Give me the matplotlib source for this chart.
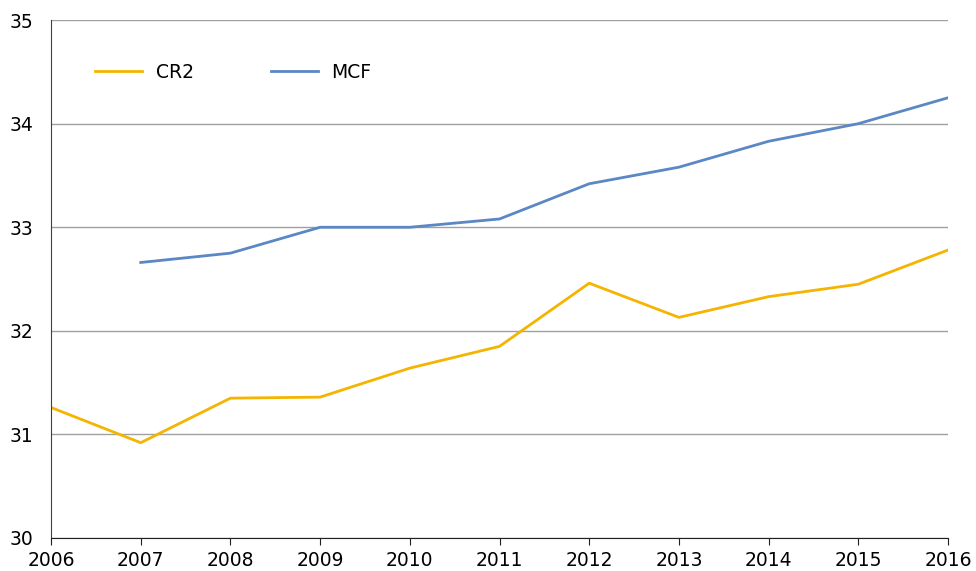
import matplotlib
matplotlib.use("Agg")
import matplotlib.pyplot as plt

years = [2006, 2007, 2008, 2009, 2010, 2011, 2012, 2013, 2014, 2015, 2016]
cr2 = [31.26, 30.92, 31.35, 31.36, 31.64, 31.85, 32.46, 32.13, 32.33, 32.45, 32.78]
mcf_years = years[1:]
mcf = [32.66, 32.75, 33.0, 33.0, 33.08, 33.42, 33.58, 33.83, 34.0, 34.25]

plt.rcParams["font.family"] = ["DejaVu Sans"]

fig = plt.figure(figsize=(9.76, 5.71), dpi=100)
ax = fig.add_axes([0.0523, 0.0578, 0.919, 0.907])

ax.plot(years, cr2, color="#f5b400", lw=2, label="CR2")
ax.plot(mcf_years, mcf, color="#5b87c5", lw=2, label="MCF")

ax.set_xlim(2006, 2016)
ax.set_ylim(30, 35)
ax.set_xticks(years)
ax.set_yticks([30, 31, 32, 33, 34, 35])
ax.yaxis.grid(True, color="#a0a0a0", lw=1)
ax.set_axisbelow(True)
for s in ["top", "right"]:
    ax.spines[s].set_visible(False)
ax.spines["left"].set_color("#404040")
ax.spines["bottom"].set_color("#202020")
ax.tick_params(axis="y", length=0, pad=13, labelsize=13.5)
ax.tick_params(axis="x", length=5, color="#202020", labelsize=13.5, pad=4.5)

ax.legend(loc="upper left", bbox_to_anchor=(0.03, 0.95), ncol=2, frameon=False,
          fontsize=13.5, handlelength=2.5, columnspacing=4.1, handletextpad=0.75)

fig.savefig("out.png", dpi=100)
